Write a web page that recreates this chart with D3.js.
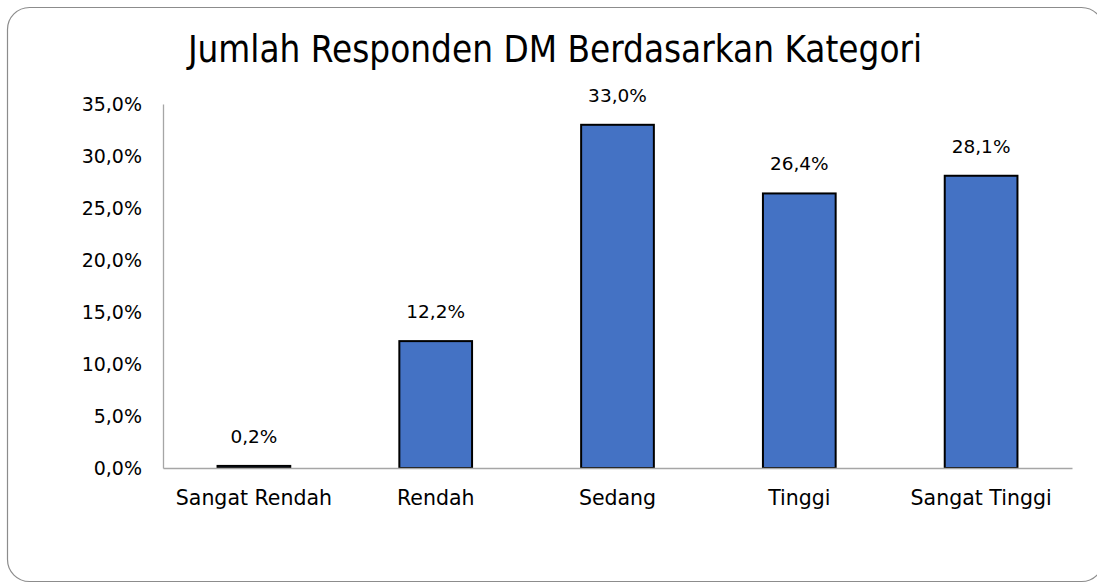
<!DOCTYPE html>
<html>
<head>
<meta charset="utf-8">
<script src="https://cdn.jsdelivr.net/npm/d3@7"></script>
<style>
  body { margin: 0; background: #fff; }
  text { font-family: "DejaVu Sans", sans-serif; fill: #000; }
  .title { font-family: "DejaVu Sans Condensed", "DejaVu Sans", sans-serif; }
</style>
</head>
<body>
<div id="chart"></div>
<script>
// data
const categories = ["Sangat Rendah", "Rendah", "Sedang", "Tinggi", "Sangat Tinggi"];
const values = [0.2, 12.2, 33.0, 26.4, 28.1];
const yTicks = [0, 5, 10, 15, 20, 25, 30, 35];
const title = "Jumlah Responden DM Berdasarkan Kategori";

const width = 1097, height = 583;
const margin = { top: 104, right: 25, bottom: 115, left: 163 };

const svg = d3.select("#chart").append("svg")
    .attr("width", width)
    .attr("height", height);

// rounded frame round the whole chart
svg.append("rect")
    .attr("x", 7.5).attr("y", 7.5)
    .attr("width", 1096).attr("height", 574)
    .attr("rx", 22).attr("ry", 22)
    .attr("fill", "none")
    .attr("stroke", "#8c8c8c")
    .attr("stroke-width", 1.2);

svg.append("text")
    .attr("class", "title")
    .attr("x", 555)
    .attr("y", 62)
    .attr("text-anchor", "middle")
    .style("font-size", "36.5px")
    .text(title);

const x = d3.scaleBand()
    .domain(categories)
    .range([margin.left, width - margin.right])
    .paddingInner(0.6)
    .paddingOuter(0.3);

const y = d3.scaleLinear()
    .domain([0, 35])
    .range([height - margin.bottom, margin.top]);

const fmt = v => d3.format(".1f")(v).replace(".", ",") + "%";

// y axis
const yAxis = svg.append("g")
    .attr("transform", `translate(${margin.left},0)`)
    .call(d3.axisLeft(y).tickValues(yTicks).tickFormat(fmt).tickSize(0).tickPadding(21));
yAxis.select(".domain").attr("stroke", "#a6a6a6").attr("stroke-width", 1.3);
yAxis.selectAll("text")
    .style("font-size", "19px")
    .attr("font-family", null);

// bars
svg.append("g").selectAll("rect")
    .data(values)
    .join("rect")
    .attr("x", (d, i) => x(categories[i]))
    .attr("y", d => y(d))
    .attr("width", x.bandwidth())
    .attr("height", d => y(0) - y(d))
    .attr("fill", "#4472c4")
    .attr("stroke", "#000")
    .attr("stroke-width", 2);

// x axis
const xAxis = svg.append("g")
    .attr("transform", `translate(0,${y(0)})`)
    .call(d3.axisBottom(x).tickSize(0).tickPadding(22));
xAxis.select(".domain").attr("stroke", "#a6a6a6").attr("stroke-width", 1.3);
xAxis.selectAll("text")
    .style("font-size", "20.5px")
    .attr("font-family", null);

// value labels
svg.append("g").selectAll("text")
    .data(values)
    .join("text")
    .attr("x", (d, i) => x(categories[i]) + x.bandwidth() / 2)
    .attr("y", d => y(d) - 23)
    .attr("text-anchor", "middle")
    .style("font-size", "18.5px")
    .text(fmt);
</script>
</body>
</html>
